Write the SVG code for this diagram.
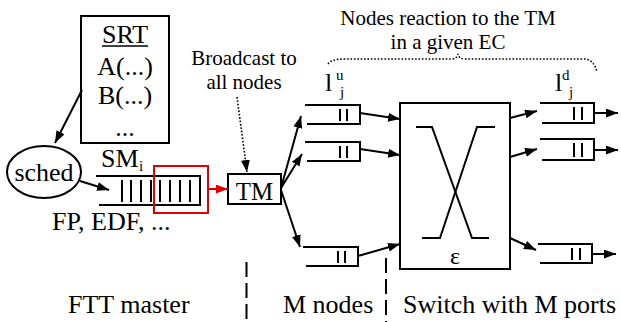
<svg xmlns="http://www.w3.org/2000/svg" width="621" height="322" viewBox="0 0 621 322">
<style>
text{font-family:"Liberation Serif","Times New Roman",serif;fill:#000}
.ln{fill:none;stroke:#000;stroke-width:2}
.bar{stroke:#000;stroke-width:2}
.con{fill:none;stroke:#000;stroke-width:2;marker-end:url(#ah)}
.dot{fill:none;stroke:#000;stroke-width:1.6;stroke-dasharray:1.6 1.8}
.dash{fill:none;stroke:#000;stroke-width:2;stroke-dasharray:15 6}
.big{font-size:26px}
.mid{font-size:21px}
.sm{font-size:15px}
</style>
<defs>
<marker id="ah" markerUnits="userSpaceOnUse" markerWidth="13" markerHeight="10" refX="12" refY="4.5" orient="auto"><path d="M0,0 L12,4.5 L0,9 z" fill="#000"/></marker>
<marker id="ahr" markerUnits="userSpaceOnUse" markerWidth="13" markerHeight="10" refX="12" refY="4.5" orient="auto"><path d="M0,0 L12,4.5 L0,9 z" fill="#e00000"/></marker>
</defs>

<g id="srt">
<rect x="81" y="16" width="88" height="127" class="ln"/>
<text x="125" y="43" class="big" text-anchor="middle">SRT</text>
<line x1="102" y1="46" x2="148" y2="46" stroke="#000" stroke-width="1.5"/>
<text x="125" y="75" class="big" text-anchor="middle">A(...)</text>
<text x="125" y="104" class="big" text-anchor="middle">B(...)</text>
<text x="125" y="136" class="big" text-anchor="middle">...</text>
</g>

<g id="sched">
<ellipse cx="44" cy="172" rx="37" ry="26" class="ln"/>
<text x="44" y="181" class="big" text-anchor="middle">sched</text>
</g>

<g id="smqueue">
<text x="101" y="167" class="big">SM</text>
<text x="139" y="171" class="sm">i</text>
<path d="M96,176 H200 V205 H99" class="ln"/>
<g class="bar">
<line x1="122" y1="180" x2="122" y2="202"/><line x1="131" y1="180" x2="131" y2="202"/>
<line x1="141" y1="180" x2="141" y2="202"/><line x1="151" y1="180" x2="151" y2="202"/>
<line x1="160" y1="180" x2="160" y2="202"/><line x1="170" y1="180" x2="170" y2="202"/>
<line x1="180" y1="180" x2="180" y2="202"/><line x1="190" y1="180" x2="190" y2="202"/>
</g>
<text x="52" y="230" class="big">FP, EDF, ...</text>
</g>

<g id="window">
<rect x="154" y="166" width="54" height="47" fill="none" stroke="#e00000" stroke-width="2"/>
</g>

<g id="tm">
<rect x="228" y="174" width="53" height="30" class="ln"/>
<text x="254.5" y="200" font-size="25" text-anchor="middle">TM</text>
</g>

<g id="broadcast">
<text x="244" y="65" class="mid" text-anchor="middle">Broadcast to</text>
<text x="244" y="89" class="mid" text-anchor="middle">all nodes</text>
</g>

<g id="reaction">
<text x="448" y="25" class="mid" text-anchor="middle">Nodes reaction to the TM</text>
<text x="448" y="49" class="mid" text-anchor="middle">in a given EC</text>
<path d="M328,64 Q331,59 345,59 L451,59 Q457,59 458,54 Q459,59 465,59 L585,59 Q594,60 597,72" class="dot"/>
</g>

<g id="nodeq1">
<path d="M305,105 H360 V124 H307" class="ln"/>
<line x1="340" y1="109" x2="340" y2="121" class="bar"/><line x1="347" y1="109" x2="347" y2="121" class="bar"/>
<text x="325" y="91" class="big">l</text>
<text x="336" y="80" class="sm">u</text>
<text x="340" y="97" class="sm">j</text>
</g>
<g id="nodeq2">
<path d="M305,142 H360 V161 H307" class="ln"/>
<line x1="340" y1="146" x2="340" y2="158" class="bar"/><line x1="347" y1="146" x2="347" y2="158" class="bar"/>
</g>
<g id="nodeq3">
<path d="M303,247 H358 V266 H306" class="ln"/>
<line x1="338" y1="251" x2="338" y2="263" class="bar"/><line x1="345" y1="251" x2="345" y2="263" class="bar"/>
</g>

<g id="switch">
<rect x="400" y="103" width="110" height="166" class="ln"/>
<path d="M416,127 H432 L472,238 H489" class="ln"/>
<path d="M495,127 H477 L440,238 H422" class="ln"/>
<text x="455" y="264" font-size="24" text-anchor="middle">ε</text>
</g>

<g id="portq1">
<path d="M540,103 H594 V123 H542" class="ln"/>
<line x1="574" y1="107" x2="574" y2="120" class="bar"/><line x1="582" y1="107" x2="582" y2="120" class="bar"/>
<text x="555" y="91" class="big">l</text>
<text x="562" y="80" class="sm">d</text>
<text x="569" y="97" class="sm">j</text>
</g>
<g id="portq2">
<path d="M540,139 H594 V160 H542" class="ln"/>
<line x1="574" y1="143" x2="574" y2="157" class="bar"/><line x1="582" y1="143" x2="582" y2="157" class="bar"/>
</g>
<g id="portq3">
<path d="M538,244 H592 V263 H540" class="ln"/>
<line x1="572" y1="248" x2="572" y2="260" class="bar"/><line x1="580" y1="248" x2="580" y2="260" class="bar"/>
</g>

<g id="sections">
<line x1="246.5" y1="262" x2="246.5" y2="322" class="dash"/>
<line x1="386" y1="258" x2="386" y2="322" class="dash"/>
<text x="68" y="313" class="big">FTT master</text>
<text x="283" y="313" class="big">M nodes</text>
<text x="403" y="313" class="big">Switch with M ports</text>
</g>

<g id="connectors">
<line x1="82" y1="90" x2="55" y2="143" class="con"/>
<line x1="80" y1="181" x2="109" y2="190" class="con"/>
<line x1="208" y1="189" x2="228" y2="189" fill="none" stroke="#e00000" stroke-width="2" marker-end="url(#ahr)"/>
<line x1="237" y1="97" x2="247" y2="172" class="dot" marker-end="url(#ah)"/>
<line x1="281" y1="188" x2="301" y2="116" class="con"/>
<line x1="281" y1="188" x2="302" y2="154" class="con"/>
<line x1="281" y1="190" x2="300" y2="247" class="con"/>
<line x1="360" y1="113" x2="400" y2="119" class="con"/>
<line x1="360" y1="149" x2="400" y2="155" class="con"/>
<line x1="358" y1="256" x2="400" y2="244" class="con"/>
<line x1="510" y1="118" x2="537" y2="111" class="con"/>
<line x1="510" y1="157" x2="537" y2="149" class="con"/>
<line x1="510" y1="238" x2="536" y2="250" class="con"/>
<line x1="594" y1="113" x2="618" y2="113" class="con"/>
<line x1="594" y1="150" x2="618" y2="150" class="con"/>
<line x1="592" y1="254" x2="616" y2="254" class="con"/>
</g>
</svg>
